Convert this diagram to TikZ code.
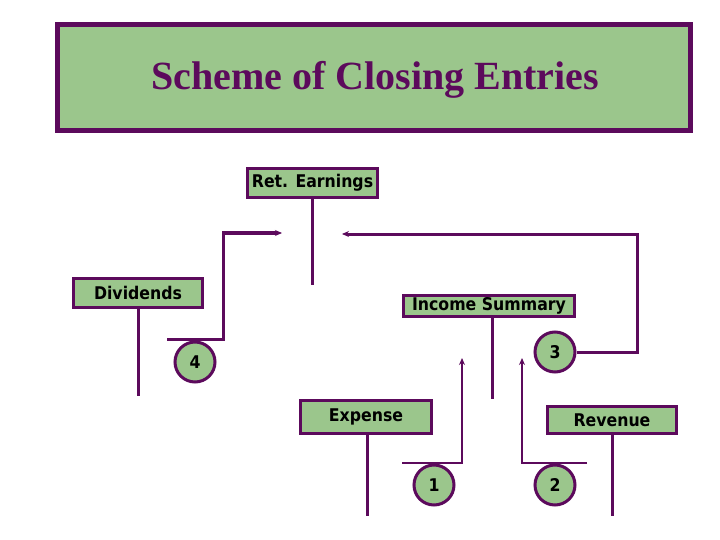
\documentclass[tikz,border=0pt]{standalone}
\usepackage{fontspec}
\usetikzlibrary{arrows.meta}
\newfontfamily\titlefont{Liberation Serif}
\newfontfamily\acctfont{DejaVu Sans Condensed}
\definecolor{plum}{RGB}{92,10,92}
\definecolor{sage}{RGB}{155,198,140}
\tikzset{
  acct/.style={draw=plum, fill=sage, line width=3pt, inner sep=0pt,
    font=\acctfont\bfseries\fontsize{17.5}{20}\selectfont},
  entry/.style={circle, draw=plum, fill=sage, line width=3pt, inner sep=0pt,
    minimum size=40pt, font=\acctfont\bfseries\fontsize{17.5}{20}\selectfont},
  link/.style={draw=plum, line width=3pt},
  feed/.style={draw=plum, line width=2pt},
  arr/.style={-{Stealth[length=7pt,width=6pt]}}
}
\begin{document}
\begin{tikzpicture}[x=1pt,y=-1pt]
\useasboundingbox (0,0) rectangle (720,540);
\draw[draw=plum, fill=sage, line width=5pt] (57.5,24.5) rectangle (690.5,130.5);
\node[text=plum, font=\titlefont\bfseries\fontsize{40}{44}\selectfont] (title) at (375,80) {Scheme of Closing Entries};

\node[acct, minimum width=130pt, minimum height=29pt] (ret) at (312.5,183) {Ret. Earnings};
\node[acct, minimum width=129pt, minimum height=29pt] (div) at (138,293) {Dividends};
\node[acct, minimum width=171pt, minimum height=21pt] (inc) at (489,306) {Income Summary};
\node[acct, minimum width=131pt, minimum height=33pt] (exp) at (366,417) {Expense};
\node[acct, minimum width=129pt, minimum height=27pt] (rev) at (612,420) {Revenue};

\node[entry] (four) at (195,362) {4};
\node[entry] (three) at (555,352) {3};
\node[entry] (one) at (434,485) {1};
\node[entry] (two) at (555,485) {2};

\coordinate (retend) at (312,285);
\coordinate (divend) at (138,396);
\coordinate (incend) at (492,399);
\coordinate (expend) at (367,516);
\coordinate (revend) at (612,516);
\coordinate (fourbar) at (167,339);
\coordinate (toretl) at (282,233);
\coordinate (corner) at (637,234);
\coordinate (toretr) at (342,234);
\coordinate (onebar) at (402,463);
\coordinate (toincl) at (462,358);
\coordinate (twobar) at (587,463);
\coordinate (toincr) at (522,358);

\draw[link] (ret.south -| retend) -- (retend);
\draw[link] (div.south -| divend) -- (divend);
\draw[link] (inc.south -| incend) -- (incend);
\draw[link] (exp.south -| expend) -- (expend);
\draw[link] (rev.south -| revend) -- (revend);

\draw[link, arr] (fourbar) -- ++(56,0) |- (toretl);
\draw[link, arr] (three.east) -| (corner) -- (toretr);
\draw[feed, arr] (onebar) -| (toincl);
\draw[feed, arr] (twobar) -| (toincr);
\end{tikzpicture}
\end{document}
